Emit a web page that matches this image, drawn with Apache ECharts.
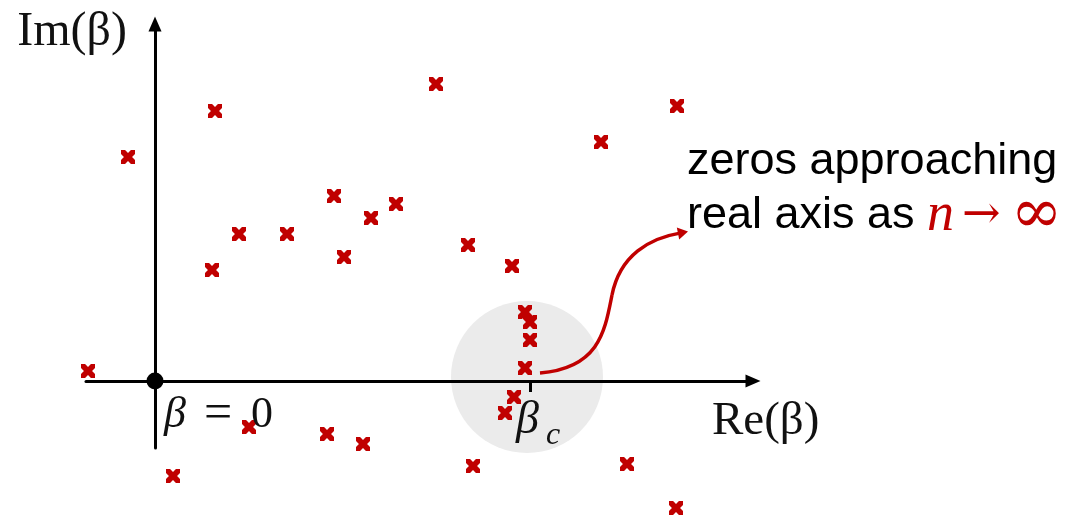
<!DOCTYPE html>
<html><head><meta charset="utf-8">
<script src="https://cdn.jsdelivr.net/npm/echarts@6/dist/echarts.min.js"></script>
<style>html,body{margin:0;padding:0;background:#fff}#c{width:1065px;height:516px}</style>
</head><body><div id="c"></div>
<script>
// Zeros in the complex beta plane (arbitrary units)
const reZeros = [-0.27, 0.60, 2.81, 5.22, 4.46, 1.79, 2.41, 2.16, 0.84, 1.32, 3.13, 1.89, 0.57, 3.57,
                 3.70, 3.75, 3.75, 3.70, -0.67, 3.59, 3.50, 0.94, 1.72, 2.08, 0.18, 3.18, 4.72, 5.21];
const imZeros = [2.24, 2.70, 2.97, 2.75, 2.39, 1.85, 1.77, 1.63, 1.47, 1.47, 1.36, 1.24, 1.11, 1.15,
                 0.69, 0.59, 0.41, 0.13, 0.10, -0.16, -0.32, -0.46, -0.53, -0.63, -0.95, -0.85, -0.83, -1.27];
const origin = [[0, 0]];
const betaC = 3.75;
const xName = 'Re(β)';
const yName = 'Im(β)';
const noteLine1 = 'zeros approaching';
const noteLine2 = 'real axis as ';
const noteVar = 'n';
const noteArrow = '→';
const noteInf = '∞';

const RED = '#c00000';
function crossPath(c) {
  const a = 5 - c, b = 10 - c, d = 5 + c;
  return 'path://M0,0 L' + c + ',0 L5,' + a + ' L' + b + ',0 L10,0 L10,' + c + ' L' + d + ',5 L10,' + b +
    ' L10,10 L' + b + ',10 L5,' + d + ' L' + c + ',10 L0,10 L0,' + b + ' L' + a + ',5 L0,' + c + ' Z';
}
const zeros = reZeros.map((x, i) => [x, imZeros[i]]);

const chart = echarts.init(document.getElementById('c'), null, {renderer: 'canvas'});
chart.setOption({
  animation: false,
  backgroundColor: '#fff',
  grid: {left: 86, right: 312, top: 24, bottom: 68},
  xAxis: {
    type: 'value', min: -0.69, max: 5.98,
    name: xName, nameLocation: 'end', nameGap: -41, nameMoveOverlap: false,
    nameTextStyle: {fontFamily: 'Liberation Serif', fontSize: 47, color: '#111', align: 'left', verticalAlign: 'top', padding: [17, 0, 0, 0]},
    splitLine: {show: false},
    axisLine: {onZero: true, symbol: ['none', 'triangle'], symbolSize: [13, 15], lineStyle: {color: '#000', width: 3}},
    axisTick: {show: true, customValues: [betaC], length: 11, inside: false, lineStyle: {color: '#000', width: 3}},
    axisLabel: {show: false}
  },
  yAxis: {
    type: 'value', min: -0.67, max: 3.57,
    name: yName, nameLocation: 'end', nameGap: -8, nameMoveOverlap: false,
    nameTextStyle: {fontFamily: 'Liberation Serif', fontSize: 48, color: '#111', align: 'right', verticalAlign: 'middle', padding: [0, 28, 0, 0]},
    splitLine: {show: false},
    axisLine: {onZero: true, symbol: ['none', 'triangle'], symbolSize: [13, 15], lineStyle: {color: '#000', width: 3}},
    axisTick: {show: false},
    axisLabel: {show: false}
  },
  series: [
    {type: 'scatter', data: zeros, clip: false, symbol: crossPath(2.9), symbolSize: 14,
     itemStyle: {color: RED, opacity: 1}, z: 5},
    {type: 'scatter', data: origin, clip: false, symbol: 'circle', symbolSize: 17,
     itemStyle: {color: '#000', opacity: 1}, z: 6}
  ]
});

function px(x, y) { return chart.convertToPixel({gridIndex: 0}, [x, y]); }
const cc = px(3.72, 0.04);
const rr = px(3.72 + 0.76, 0)[0] - px(3.72, 0)[0];
const p0 = px(3.85, 0.08), c1 = px(4.45, 0.13), c2 = px(4.50, 0.51), pm = px(4.57, 0.86);
const c3 = px(4.65, 1.26), c4 = px(4.95, 1.43), pe = px(5.23, 1.475);
const tip = px(5.33, 1.495);
const dx = tip[0] - pe[0], dy = tip[1] - pe[1], L = Math.hypot(dx, dy);
const ux = dx / L, uy = dy / L, hw = 6;
const o0 = px(0, 0);
const bc = px(betaC, 0);

chart.setOption({
  graphic: [
    {type: 'circle', z: -1, shape: {cx: cc[0], cy: cc[1], r: rr}, style: {fill: '#ebebeb'}},
    {type: 'bezierCurve', z: 10, shape: {x1: p0[0], y1: p0[1], cpx1: c1[0], cpy1: c1[1], cpx2: c2[0], cpy2: c2[1], x2: pm[0], y2: pm[1]},
     style: {stroke: RED, lineWidth: 3.5, fill: null}},
    {type: 'bezierCurve', z: 10, shape: {x1: pm[0], y1: pm[1], cpx1: c3[0], cpy1: c3[1], cpx2: c4[0], cpy2: c4[1], x2: pe[0] + ux * 2, y2: pe[1] + uy * 2},
     style: {stroke: RED, lineWidth: 3.5, fill: null}},
    {type: 'polygon', z: 10, shape: {points: [[tip[0], tip[1]], [pe[0] - uy * hw, pe[1] + ux * hw], [pe[0] + uy * hw, pe[1] - ux * hw]]},
     style: {fill: RED}},
    {type: 'text', z: 10, x: o0[0] + 9, y: o0[1] + 34,
     style: {text: '{b|β}{e|=}{z|0}', verticalAlign: 'middle', align: 'left',
       rich: {
         b: {fontFamily: 'Liberation Serif', fontStyle: 'italic', fontSize: 44, fill: '#111'},
         e: {fontFamily: 'Liberation Serif', fontSize: 50, fill: '#111', padding: [0, 19, 0, 18]},
         z: {fontFamily: 'Liberation Serif', fontSize: 44, fill: '#111'}
       }}},
    {type: 'text', z: 10, x: bc[0] - 14, y: bc[1] + 38,
     style: {text: '{b|β}{s|c}', verticalAlign: 'middle', align: 'left',
       rich: {
         b: {fontFamily: 'Liberation Serif', fontStyle: 'italic', fontSize: 46, fill: '#111', verticalAlign: 'bottom', lineHeight: 50},
         s: {fontFamily: 'Liberation Serif', fontStyle: 'italic', fontSize: 32, fill: '#111', verticalAlign: 'bottom', lineHeight: 50, padding: [0, 0, -8, 7]}
       }}},
    {type: 'text', z: 10, x: 687, y: 162,
     style: {text: noteLine1, font: '45px "Liberation Sans"', fill: '#000', verticalAlign: 'middle', align: 'left'}},
    {type: 'text', z: 10, x: 687, y: 216,
     style: {text: '{t|' + noteLine2 + '}{m|' + noteVar + '}{a|' + noteArrow + '}{i|' + noteInf + '}', verticalAlign: 'middle', align: 'left',
       rich: {
         t: {fontFamily: 'Liberation Sans', fontSize: 45, fill: '#000', padding: [0, 0, 0, 0]},
         m: {fontFamily: 'Liberation Serif', fontStyle: 'italic', fontSize: 54, fill: RED, padding: [0, 8, 0, 0]},
         a: {fontFamily: 'DejaVu Serif', fontSize: 46, fill: RED, padding: [0, 10, 0, 0]},
         i: {fontFamily: 'DejaVu Serif', fontSize: 62, fill: RED}
       }}}
  ]
});
</script></body></html>
